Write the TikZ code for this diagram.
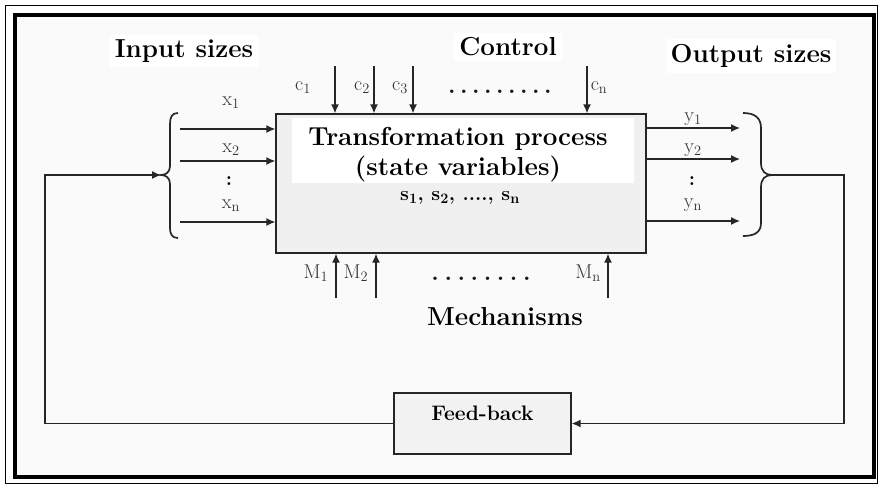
\documentclass[tikz,border=0pt]{standalone}
\usetikzlibrary{arrows.meta}
\begin{document}
\begin{tikzpicture}[x=1pt,y=-1pt,
  ln/.style={line width=1.3pt, draw=black!85},
  arr/.style={ln, -{Latex[length=9pt,width=8pt]}},
  brc/.style={line width=1.7pt, draw=black!85},
  ttl/.style={font=\fontsize{26}{30}\selectfont\bfseries, fill=white, inner sep=5pt},
  lab/.style={font=\fontsize{20}{22}\selectfont, text=black!80, inner sep=1pt},
  dots/.style={font=\fontsize{24}{24}\selectfont\bfseries, text=black!90, inner sep=0pt}
]
\useasboundingbox (0,0) rectangle (879,485);
\fill[white] (0,0) rectangle (879,485);
\fill[gray!4] (15,15) rectangle (874,477);
\draw[line width=1pt] (5,5) rectangle (877,483);
\draw[line width=4pt] (15,15) rectangle (874,477);

% titles
\node[ttl] (tin) at (184,51) {Input sizes};
\node[ttl] (tctl) at (508,47) {Control};
\node[ttl] (tout) at (751,56) {Output sizes};
\node[font=\fontsize{26}{30}\selectfont\bfseries, inner sep=2pt] (tmech) at (505,317) {Mechanisms};

% main process box
\node[draw=black!85, line width=1.3pt, fill=gray!12, minimum width=370pt, minimum height=139pt, inner sep=0pt] (P) at (461,183.5) {};
\fill[white] (292,118) rectangle (634,183);
\node[font=\fontsize{26}{30}\selectfont\bfseries, align=center, inner sep=0pt] (tp) at (458,155) {Transformation process\\(state variables)};
\node[font=\fontsize{20}{22}\selectfont\bfseries, inner sep=0pt] (sv) at (460,198) {s$_{\mathbf{1}}$, s$_{\mathbf{2}}$, ...., s$_{\mathbf{n}}$};

% control arrows
\coordinate (c1) at (335,66);
\coordinate (c2) at (374,66);
\coordinate (c3) at (413,66);
\coordinate (cn) at (587,66);
\foreach \c in {c1,c2,c3,cn} \draw[arr] (\c) -- (\c |- P.north);
\node[lab] (lc1) at (303,88) {c$_1$};
\node[lab] (lc2) at (362,88) {c$_2$};
\node[lab] (lc3) at (400,88) {c$_3$};
\node[lab] (lcn) at (599,88) {c$_\mathrm{n}$};
\node[dots, anchor=base] (cdots) at (500,93) {\makebox[108pt]{\xleaders\hbox to 12pt{\hss.\hss}\hfill}};

% inputs
\coordinate (x1) at (180,129);
\coordinate (x2) at (180,161);
\coordinate (xn) at (180,222);
\foreach \c in {x1,x2,xn} \draw[arr] (\c) -- (\c -| P.west);
\node[lab] (lx1) at (231,103) {x$_1$};
\node[lab] (lx2) at (231,150) {x$_2$};
\node[lab, font=\fontsize{20}{22}\selectfont\bfseries, text=black] (lxc) at (229,181) {:};
\node[lab] (lxn) at (231,206) {x$_\mathrm{n}$};

% outputs
\coordinate (y1) at (740,128);
\coordinate (y2) at (740,159);
\coordinate (yn) at (740,221);
\foreach \c in {y1,y2,yn} \draw[arr] (\c -| P.east) -- (\c);
\node[lab] (ly1) at (693,119) {y$_1$};
\node[lab] (ly2) at (693,150) {y$_2$};
\node[lab, font=\fontsize{20}{22}\selectfont\bfseries, text=black] (lyc) at (692,181) {:};
\node[lab] (lyn) at (693,205) {y$_\mathrm{n}$};

% mechanisms
\coordinate (m1) at (336,298);
\coordinate (m2) at (376,298);
\coordinate (mn) at (608,298);
\foreach \c in {m1,m2,mn} \draw[arr] (\c) -- (\c |- P.south);
\node[lab] (lm1) at (316,273) {M$_1$};
\node[lab] (lm2) at (356,273) {M$_2$};
\node[lab] (lmn) at (588,273) {M$_\mathrm{n}$};
\node[dots, anchor=base] (mdots) at (481,280) {\makebox[106pt]{\xleaders\hbox to 11.8pt{\hss.\hss}\hfill}};

% braces
\coordinate (lb) at (161,175);
\coordinate (rb) at (772,175);
\draw[brc] (178,113) .. controls (172,113) and (170,117) .. (170,124) -- (170,166)
  .. controls (170,172) and (166,175) .. (lb)
  .. controls (166,175) and (170,178) .. (170,184) -- (170,228)
  .. controls (170,234) and (172,238) .. (178,238);
\draw[brc] (743,113) .. controls (755,113) and (761,118) .. (761,128) -- (761,163)
  .. controls (761,171) and (765,175) .. (rb)
  .. controls (765,175) and (761,179) .. (761,187) -- (761,223)
  .. controls (761,232) and (755,236) .. (743,236);

% feedback
\node[draw=black!85, line width=1.3pt, fill=gray!10, minimum width=177pt, inner sep=0pt,
      text height=27pt, text depth=34pt, font=\fontsize{21}{24}\selectfont\bfseries] (FB) at (482.5,423.5) {Feed-back};
\coordinate (rc) at (844,175);
\coordinate (lcn) at (45,175);
\draw[arr] (rb) -- (rc) |- (FB.east);
\draw[arr] (FB.west) -| (lcn) -- (lb);
\end{tikzpicture}
\end{document}
